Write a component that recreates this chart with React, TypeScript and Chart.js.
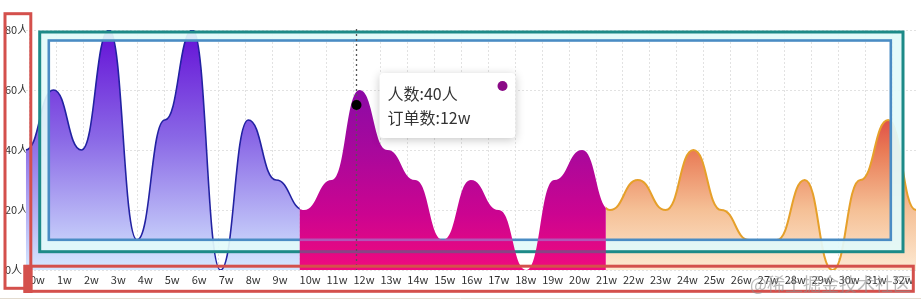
import React, { useEffect, useRef } from 'react';
import { Chart, LineController, LineElement, PointElement, LinearScale, Filler } from 'chart.js';

// ---------- data ----------
const weekLabels = [
  '0w', '1w', '2w', '3w', '4w', '5w', '6w', '7w', '8w', '9w', '10w',
  '11w', '12w', '13w', '14w', '15w', '16w', '17w', '18w', '19w', '20w',
  '21w', '22w', '23w', '24w', '25w', '26w', '27w', '28w', '29w', '30w', '31w', '32w',
];
const peopleCounts = [
  40, 60, 40, 80, 10, 50, 80, 0, 50, 30, 20,
  30, 60, 40, 30, 10, 30, 20, 0, 30, 40,
  20, 30, 20, 40, 20, 10, 10, 30, 0, 30, 50, 20,
];
const yTickValues = [0, 20, 40, 60, 80];
const colourBreaks = [9.85, 20.85]; // week positions where the area colour changes
const highlightWeek = 11.89;
const highlightPeople = 55;
const tooltipPeople = 40;
const tooltipOrders = '12w';
const watermarkText = '@稀土掘金技术社区';

// ---------- styles / layout ----------
const FONT = '"Noto Sans CJK SC", "Noto Sans", sans-serif';
const SMOOTH = 0.5;
const TICK_MIN = -0.159;
const TICK_MAX = 32.87;

const blueStops: [number, string][] = [[0, '#6410d6'], [0.45, '#8a68e6'], [1, '#d5e8ff']];
const magentaStops: [number, string][] = [[0, '#7a0cb8'], [0.25, '#8c0aa6'], [0.5, '#a8089c'], [0.77, '#cc0490'], [1, '#f00a7e']];
const orangeStops: [number, string][] = [[0, '#d8303a'], [0.375, '#e05048'], [0.5, '#e97a55'], [0.75, '#f5c096'], [1, '#fde9d2']];

const frames = {
  red1: { x: 5, y: 13.7, w: 25.8, h: 274.6 },
  red2: { x: 25, y: 266.2, w: 888.3, h: 25.1 },
  teal: { x: 39.7, y: 32, w: 863.3, h: 219.7 },
  blue: { x: 48.8, y: 40.5, w: 842, h: 199.3 },
};

const segmentRanges = [
  [-Infinity, colourBreaks[0]],
  [colourBreaks[0], colourBreaks[1]],
  [colourBreaks[1], Infinity],
];

function vGradient(chart: any, stops: [number, string][]) {
  const area = chart.chartArea;
  if (!area) return stops[0][1];
  const g = chart.ctx.createLinearGradient(0, area.top, 0, area.bottom);
  stops.forEach(([o, c]) => g.addColorStop(o, c));
  return g;
}

// registered before Filler so its clip also applies to area fills
const segClipPlugin: any = {
  id: 'segClip',
  afterDatasetsUpdate(chart: any) {
    chart.data.datasets.forEach((ds: any, i: number) => {
      const meta = chart.getDatasetMeta(i);
      if (!meta.dataset || ds.showLine === false) return;
      meta.dataset.updateControlPoints(chart.chartArea, 'x');
      const pts = meta.data;
      for (let k = 0; k < pts.length; k++) {
        const p = pts[k];
        const prev = pts[k - 1];
        const next = pts[k + 1];
        p.cp1x = prev ? p.x - SMOOTH * (p.x - prev.x) : p.x;
        p.cp1y = p.y;
        p.cp2x = next ? p.x + SMOOTH * (next.x - p.x) : p.x;
        p.cp2y = p.y;
      }
    });
  },
  beforeDatasetDraw(chart: any, args: any) {
    const r = segmentRanges[args.index];
    if (!r) return;
    const xs = chart.scales.x2;
    const x0 = isFinite(r[0]) ? xs.getPixelForValue(r[0]) : 0;
    const x1 = isFinite(r[1]) ? xs.getPixelForValue(r[1]) : chart.width;
    const ctx = chart.ctx;
    ctx.save();
    ctx.beginPath();
    ctx.rect(x0, 0, x1 - x0, chart.height);
    ctx.clip();
  },
  afterDatasetDraw(chart: any, args: any) {
    if (segmentRanges[args.index]) chart.ctx.restore();
  },
};

Chart.register(segClipPlugin, LineController, LineElement, PointElement, LinearScale, Filler);

function strokeBox(ctx: CanvasRenderingContext2D, f: any, color: string, width: number) {
  ctx.strokeStyle = color;
  ctx.lineWidth = width;
  ctx.strokeRect(f.x, f.y, f.w, f.h);
}

const overlayPlugin: any = {
  id: 'overlay',
  afterDatasetDraw(chart: any, args: any) {
    const ctx: CanvasRenderingContext2D = chart.ctx;
    if (args.index === 2) {
      // light band between the two inner frames, then the frames
      ctx.save();
      ctx.fillStyle = 'rgba(226,250,250,0.93)';
      ctx.beginPath();
      const t = frames.teal, b = frames.blue;
      ctx.rect(t.x, t.y, t.w, t.h);
      ctx.rect(b.x, b.y, b.w, b.h);
      ctx.fill('evenodd');
      strokeBox(ctx, t, '#1d8a88', 3);
      strokeBox(ctx, b, '#4a8cc4', 2.6);
      ctx.restore();
    }
    if (args.index === 1) {
      const meta = chart.getDatasetMeta(1);
      const pts = meta.data;
      const xs = chart.scales.x2;
      const ys = chart.scales.y;
      const base = ys.getPixelForValue(0);
      ctx.save();
      ctx.beginPath();
      const x0 = xs.getPixelForValue(colourBreaks[0]);
      const x1 = xs.getPixelForValue(colourBreaks[1]);
      ctx.rect(x0, 0, x1 - x0, chart.height);
      ctx.clip();
      ctx.beginPath();
      meta.dataset.path(ctx);
      ctx.lineTo(pts[pts.length - 1].x, base);
      ctx.lineTo(pts[0].x, base);
      ctx.closePath();
      ctx.clip();
      ctx.globalAlpha = 0.45;
      strokeBox(ctx, frames.teal, '#1d8a88', 3);
      strokeBox(ctx, frames.blue, '#7fb4f0', 2.6);
      ctx.restore();

      // crosshair
      const hx = xs.getPixelForValue(highlightWeek);
      ctx.save();
      ctx.strokeStyle = '#555';
      ctx.lineWidth = 1.3;
      ctx.setLineDash([2, 3]);
      ctx.beginPath();
      ctx.moveTo(hx, chart.chartArea.top - 1);
      ctx.lineTo(hx, chart.chartArea.bottom);
      ctx.stroke();
      ctx.restore();
    }
  },
  afterDraw(chart: any) {
    const ctx: CanvasRenderingContext2D = chart.ctx;
    ctx.save();
    // red frames
    strokeBox(ctx, frames.red1, '#d4504c', 3);
    strokeBox(ctx, frames.red2, '#d4504c', 3);
    ctx.fillStyle = '#d4504c';
    ctx.fillRect(23.5, 265, 9, 28);
    // bottom separator
    ctx.strokeStyle = '#e2dbd0';
    ctx.lineWidth = 1;
    ctx.beginPath();
    ctx.moveTo(0, 298.5);
    ctx.lineTo(chart.width, 298.5);
    ctx.stroke();

    // tooltip
    const hx = chart.scales.x2.getPixelForValue(highlightWeek);
    const hy = chart.scales.y.getPixelForValue(highlightPeople);
    const bx = hx + 23, by = hy - 32, bw = 136, bh = 65;
    ctx.shadowColor = 'rgba(0,0,0,0.22)';
    ctx.shadowBlur = 10;
    ctx.shadowOffsetY = 2;
    ctx.fillStyle = '#fff';
    ctx.beginPath();
    (ctx as any).roundRect(bx, by, bw, bh, 4);
    ctx.fill();
    ctx.shadowColor = 'transparent';
    ctx.shadowBlur = 0;
    ctx.shadowOffsetY = 0;
    ctx.fillStyle = '#8a0a86';
    ctx.beginPath();
    ctx.arc(bx + 123, by + 13, 5, 0, Math.PI * 2);
    ctx.fill();
    ctx.fillStyle = '#333';
    ctx.font = `16px ${FONT}`;
    ctx.textBaseline = 'middle';
    ctx.textAlign = 'left';
    ctx.fillText(`人数:${tooltipPeople}人`, bx + 8, by + 21);
    ctx.fillText(`订单数:${tooltipOrders}`, bx + 8, by + 45);

    // watermark
    ctx.font = `18px ${FONT}`;
    ctx.fillStyle = 'rgba(140,140,140,0.6)';
    ctx.textBaseline = 'middle';
    ctx.fillText(watermarkText, 750, 284);
    ctx.restore();
  },
};

export default function App() {
  const ref = useRef<HTMLCanvasElement | null>(null);

  useEffect(() => {
    if (!ref.current) return;
    const line = (values: number[]) => values.map((v, i) => ({ x: i, y: v }));
    const chart = new Chart(ref.current, {
      type: 'line',
      data: {
        datasets: [
          {
            label: 'blue',
            data: line(peopleCounts),
            xAxisID: 'x2',
            yAxisID: 'y',
            order: 4,
            tension: 0.4,
            fill: 'origin',
            borderColor: '#2222a2',
            borderWidth: 1.6,
            backgroundColor: (c: any) => vGradient(c.chart, blueStops),
            pointRadius: 0,
          },
          {
            label: 'magenta',
            data: line(peopleCounts),
            xAxisID: 'x2',
            yAxisID: 'y',
            order: 2,
            tension: 0.4,
            fill: 'origin',
            borderColor: 'rgba(0,0,0,0)',
            borderWidth: 1,
            backgroundColor: (c: any) => vGradient(c.chart, magentaStops),
            pointRadius: 0,
          },
          {
            label: 'orange',
            data: line(peopleCounts),
            xAxisID: 'x2',
            yAxisID: 'y',
            order: 3,
            tension: 0.4,
            fill: 'origin',
            borderColor: '#e6a02a',
            borderWidth: 2,
            backgroundColor: (c: any) => vGradient(c.chart, orangeStops),
            pointRadius: 0,
          },
          {
            label: 'highlight',
            data: [{ x: highlightWeek, y: highlightPeople }],
            xAxisID: 'x2',
            yAxisID: 'y',
            order: 1,
            showLine: false,
            fill: false,
            pointRadius: 5,
            pointBackgroundColor: '#000',
            pointBorderWidth: 0,
          },
        ],
      },
      options: {
        responsive: false,
        animation: false,
        devicePixelRatio: 1,
        events: [],
        layout: { padding: { left: 5, top: 30, right: 3.5, bottom: 0 } },
        plugins: {
          filler: { drawTime: 'beforeDatasetDraw' },
        },
        scales: {
          x: {
            type: 'linear',
            position: 'bottom',
            min: TICK_MIN,
            max: TICK_MAX,
            afterBuildTicks: (s: any) => {
              s.ticks = weekLabels.map((_, i) => ({ value: i }));
            },
            afterFit: (s: any) => {
              s.height = 36;
            },
            ticks: {
              autoSkip: false,
              maxRotation: 0,
              minRotation: 0,
              align: 'start',
              padding: 3,
              color: '#333',
              font: { family: FONT, size: 11 },
              callback: (v: any) => weekLabels[v] ?? '',
            },
            grid: { color: '#e2e2e2', lineWidth: 1, drawTicks: false },
            border: { display: false, dash: [2, 2] },
          },
          x2: {
            type: 'linear',
            display: false,
            min: 0,
            max: weekLabels.length - 1,
          },
          y: {
            type: 'linear',
            position: 'left',
            min: 0,
            max: 80,
            afterBuildTicks: (s: any) => {
              s.ticks = yTickValues.map((v) => ({ value: v }));
            },
            afterFit: (s: any) => {
              s.width = 20.7;
            },
            ticks: {
              crossAlign: 'far',
              padding: 0,
              color: '#333',
              font: { family: FONT, size: 11 },
              callback: (v: any) => `${v}人`,
            },
            grid: { color: '#e2e2e2', lineWidth: 1, drawTicks: false },
            border: { display: false, dash: [2, 2] },
          },
        },
      } as any,
      plugins: [overlayPlugin],
    });
    return () => chart.destroy();
  }, []);

  return (
    <div style={{ position: 'fixed', left: 0, top: 0, width: 921, height: 306, background: '#fff' }}>
      <canvas ref={ref} width={921} height={306} style={{ display: 'block' }} />
    </div>
  );
}
